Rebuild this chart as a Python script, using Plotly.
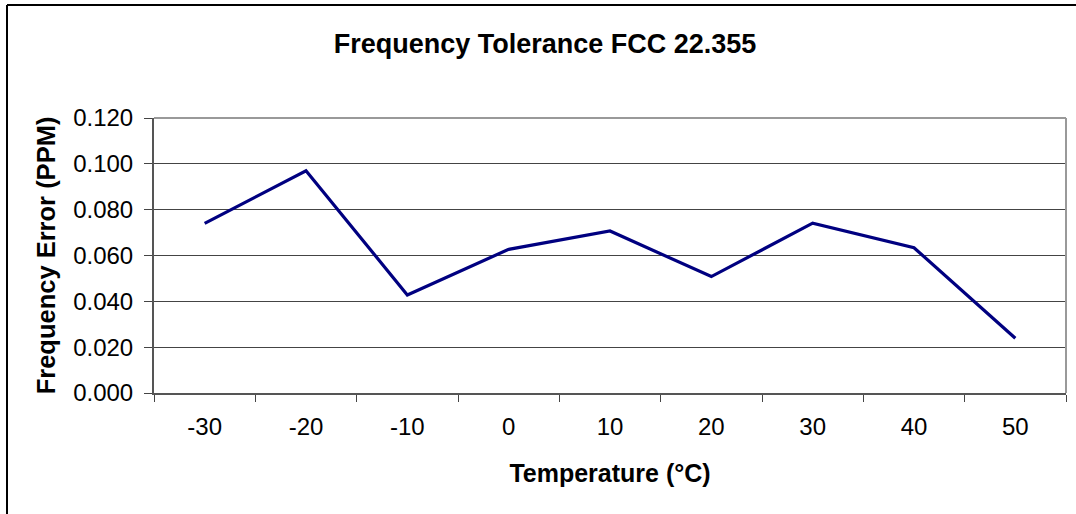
import plotly.graph_objects as go

temperatures = ["-30", "-20", "-10", "0", "10", "20", "30", "40", "50"]
freq_error_ppm = [0.074, 0.097, 0.0428, 0.0627, 0.0707, 0.0508, 0.0741, 0.0634, 0.0239]
y_ticks = [0.0, 0.02, 0.04, 0.06, 0.08, 0.10, 0.12]

FONT = "Liberation Sans, Arial, sans-serif"

fig = go.Figure(
    go.Scatter(
        x=temperatures,
        y=freq_error_ppm,
        mode="lines",
        line=dict(color="#000080", width=3.2),
        showlegend=False,
    )
)

# plot area spans x 154..1066, y 118..393 in a 1076x514 page
fig.update_layout(
    width=1076,
    height=514,
    margin=dict(l=154, r=10, t=118, b=121, pad=0),
    paper_bgcolor="white",
    plot_bgcolor="white",
    font=dict(family=FONT, color="black"),
    title=dict(
        text="<b>Frequency Tolerance FCC 22.355</b>",
        x=545 / 1076,
        xanchor="center",
        y=1 - 44 / 514,
        yanchor="middle",
        font=dict(size=27, family=FONT, color="black"),
    ),
    xaxis=dict(
        type="category",
        tickson="boundaries",
        ticks="outside",
        ticklen=7,
        tickcolor="#444",
        tickwidth=1,
        showgrid=False,
        showline=True,
        linecolor="#555",
        linewidth=2,
        tickfont=dict(size=24),
        ticklabelstandoff=11,
        title=dict(text="<b>Temperature (°C)</b>", font=dict(size=25), standoff=26),
        range=[-0.5, 8.5],
        automargin=False,
    ),
    yaxis=dict(
        range=[0, 0.12],
        tickvals=y_ticks,
        tickformat=".3f",
        ticks="outside",
        ticklen=8,
        tickcolor="#444",
        showgrid=True,
        gridcolor="#444",
        gridwidth=1,
        zeroline=False,
        showline=True,
        linecolor="#555",
        linewidth=2,
        tickfont=dict(size=24),
        ticklabelstandoff=6,
        title=dict(text="<b>Frequency Error (PPM)</b>", font=dict(size=25.5), standoff=10),
        automargin=False,
    ),
    shapes=[
        # plot area top and right edges (lighter grey in the original)
        dict(type="line", xref="paper", yref="paper", x0=0, x1=1, y0=1, y1=1,
             line=dict(color="#999", width=2)),
        dict(type="line", xref="paper", yref="paper", x0=1, x1=1, y0=0, y1=1,
             line=dict(color="#999", width=2)),
        # chart border: only left and top edges fall inside the picture
        dict(type="line", xref="paper", yref="paper",
             x0=(7 - 154) / 912, x1=(7 - 154) / 912, y0=1 + 113 / 275, y1=-0.5,
             line=dict(color="black", width=2)),
        dict(type="line", xref="paper", yref="paper",
             x0=(7 - 154) / 912, x1=1.1, y0=1 + 113 / 275, y1=1 + 113 / 275,
             line=dict(color="black", width=2)),
    ],
)

# drop the browser's default body margin so the figure sits at the page origin
fig.write_html(
    "out.html",
    config={"displayModeBar": False},
    post_script="document.body.style.margin = '0';",
)
